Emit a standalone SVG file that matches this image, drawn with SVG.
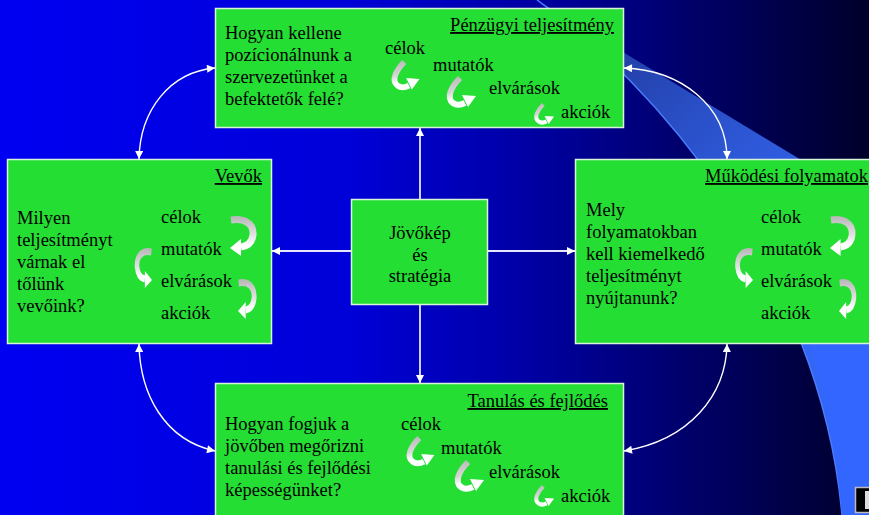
<svg xmlns="http://www.w3.org/2000/svg" xmlns:xlink="http://www.w3.org/1999/xlink" width="869" height="515" viewBox="0 0 869 515">
<defs>
<style>
.box{fill:#24DE33;stroke:#D8F5D8;stroke-width:1.5}
.t{font-family:"Liberation Serif","Times New Roman",serif;font-size:18.5px;fill:#000}
.title{text-decoration:underline;text-anchor:end}
.mid{text-anchor:middle}
.conn{stroke:#fff;stroke-width:1.4;fill:none}
.line{stroke:#E6E6FF;stroke-width:1.8;fill:none}
</style>
<linearGradient id="bg" x1="0" y1="0" x2="869" y2="0" gradientUnits="userSpaceOnUse">
<stop offset="0" stop-color="#0000F2"/>
<stop offset="0.4" stop-color="#0000D8"/>
<stop offset="0.6" stop-color="#0000A6"/>
<stop offset="0.72" stop-color="#000080"/>
<stop offset="1" stop-color="#00002A"/>
</linearGradient>
<linearGradient id="sw" x1="560" y1="20" x2="800" y2="250" gradientUnits="userSpaceOnUse">
<stop offset="0" stop-color="#1E3494"/>
<stop offset="0.5" stop-color="#2A50C8"/>
<stop offset="1" stop-color="#3366F2"/>
</linearGradient>
<linearGradient id="hg" x1="0" y1="0" x2="10" y2="30" gradientUnits="userSpaceOnUse">
<stop offset="0" stop-color="#B0B0B0"/>
<stop offset="0.55" stop-color="#D6D6D6"/>
<stop offset="0.8" stop-color="#FFFFFF"/>
</linearGradient>
<linearGradient id="cg" x1="0" y1="0" x2="0" y2="40" gradientUnits="userSpaceOnUse">
<stop offset="0" stop-color="#B4B4B4"/>
<stop offset="0.5" stop-color="#E2E2E2"/>
<stop offset="0.75" stop-color="#FFFFFF"/>
</linearGradient>
<marker id="ah" viewBox="0 0 10 10" refX="10" refY="5" markerWidth="9" markerHeight="8" markerUnits="userSpaceOnUse" orient="auto-start-reverse">
<path d="M0,0 L10,5 L0,10 Z" fill="#fff"/>
</marker>
<g id="hook">
<path d="M15,2 C6,11 1,22 8,27 C12,30 16,29 20,27" fill="none" stroke="url(#hg)" stroke-width="6"/>
<path d="M17,19 L31,20 L23,31 Z" fill="#fff"/>
</g>
<g id="curl">
<path d="M1,5 C15,3 24,9 23,20 C22,27 18,31 11,32" fill="none" stroke="url(#cg)" stroke-width="7"/>
<path d="M11,24 L0,33 L11,41 Z" fill="#fff"/>
</g>
</defs>

<g id="background">
<rect x="0" y="0" width="869" height="515" fill="url(#bg)"/>
<path d="M537,0 L869,201 L869,515 L842,515 C820,270 650,80 537,0 Z" fill="url(#sw)"/>
<path d="M842,515 C820,270 650,80 537,0" fill="none" stroke="#4A7CFF" stroke-width="1.5"/>
<path d="M808,343 L869,343 L869,515 L842,515 C836,450 825,390 808,343 Z" fill="#3366FF"/>
<rect x="855.5" y="487.5" width="20" height="25" fill="#000" stroke="#BBBBBB" stroke-width="1.5"/>
<rect x="865" y="491" width="4" height="18" fill="#DDDDDD"/>
</g>

<g id="node-top">
<rect class="box" x="215.5" y="8.5" width="408" height="119"/>
<text class="t title" x="614" y="31">Pénzügyi teljesítmény</text>
<text class="t" x="225" y="39">Hogyan kellene</text>
<text class="t" x="225" y="61">pozícionálnunk a</text>
<text class="t" x="225" y="83">szervezetünket a</text>
<text class="t" x="225" y="105">befektetők felé?</text>
<text class="t" x="385" y="54">célok</text>
<text class="t" x="433" y="71">mutatók</text>
<text class="t" x="489" y="94">elvárások</text>
<text class="t" x="561" y="118">akciók</text>
<use xlink:href="#hook" transform="translate(390,60) scale(0.95)"/>
<use xlink:href="#hook" transform="translate(445,76)"/>
<use xlink:href="#hook" transform="translate(533,103) scale(0.68)"/>
</g>

<g id="node-left">
<rect class="box" x="7.5" y="159.5" width="264" height="184"/>
<text class="t title" x="262" y="182">Vevők</text>
<text class="t" x="17" y="224">Milyen</text>
<text class="t" x="17" y="246">teljesítményt</text>
<text class="t" x="17" y="268">várnak el</text>
<text class="t" x="17" y="290">tőlünk</text>
<text class="t" x="17" y="312">vevőink?</text>
<text class="t" x="161" y="223">célok</text>
<text class="t" x="161" y="255">mutatók</text>
<text class="t" x="161" y="287">elvárások</text>
<text class="t" x="161" y="319">akciók</text>
<use xlink:href="#curl" transform="translate(230,215)"/>
<use xlink:href="#curl" transform="translate(152,247) scale(-0.65,1)"/>
<use xlink:href="#curl" transform="translate(238,278) scale(0.7,1)"/>
</g>

<g id="node-right">
<rect class="box" x="575.5" y="159.5" width="320" height="184"/>
<text class="t title" x="868" y="182">Működési folyamatok</text>
<text class="t" x="586" y="216">Mely</text>
<text class="t" x="586" y="238">folyamatokban</text>
<text class="t" x="586" y="260">kell kiemelkedő</text>
<text class="t" x="586" y="282">teljesítményt</text>
<text class="t" x="586" y="304">nyújtanunk?</text>
<text class="t" x="761" y="223">célok</text>
<text class="t" x="761" y="255">mutatók</text>
<text class="t" x="761" y="287">elvárások</text>
<text class="t" x="761" y="319">akciók</text>
<use xlink:href="#curl" transform="translate(830,215) scale(0.96,1)"/>
<use xlink:href="#curl" transform="translate(753,247) scale(-0.67,1)"/>
<use xlink:href="#curl" transform="translate(839,278) scale(0.65,1)"/>
</g>

<g id="node-bottom">
<rect class="box" x="215.5" y="383.5" width="408" height="140"/>
<text class="t title" x="608" y="407">Tanulás és fejlődés</text>
<text class="t" x="225" y="430">Hogyan fogjuk a</text>
<text class="t" x="225" y="452">jövőben megőrizni</text>
<text class="t" x="225" y="474">tanulási és fejlődési</text>
<text class="t" x="225" y="496">képességünket?</text>
<text class="t" x="401" y="430">célok</text>
<text class="t" x="441" y="454">mutatók</text>
<text class="t" x="489" y="478">elvárások</text>
<text class="t" x="561" y="502">akciók</text>
<use xlink:href="#hook" transform="translate(405,436) scale(0.95)"/>
<use xlink:href="#hook" transform="translate(453,460)"/>
<use xlink:href="#hook" transform="translate(533,485) scale(0.68)"/>
</g>

<g id="node-center">
<rect class="box" x="351.5" y="199.5" width="136" height="105"/>
<text class="t mid" x="420" y="239">Jövőkép</text>
<text class="t mid" x="420" y="261">és</text>
<text class="t mid" x="420" y="282">stratégia</text>
</g>

<g id="connectors">
<path class="line" d="M420,199 L420,128" marker-end="url(#ah)"/>
<path class="line" d="M420,305 L420,383" marker-end="url(#ah)"/>
<path class="line" d="M351,251 L272,251" marker-end="url(#ah)"/>
<path class="line" d="M488,251 L575,251" marker-end="url(#ah)"/>
<path class="conn" d="M215,68 C170,72 140,110 139,159" marker-start="url(#ah)" marker-end="url(#ah)"/>
<path class="conn" d="M624,68 C680,70 727,105 727,159" marker-start="url(#ah)" marker-end="url(#ah)"/>
<path class="conn" d="M139,344 C140,395 165,440 215,451" marker-start="url(#ah)" marker-end="url(#ah)"/>
<path class="conn" d="M727,344 C726,395 690,440 624,451" marker-start="url(#ah)" marker-end="url(#ah)"/>
</g>
</svg>
